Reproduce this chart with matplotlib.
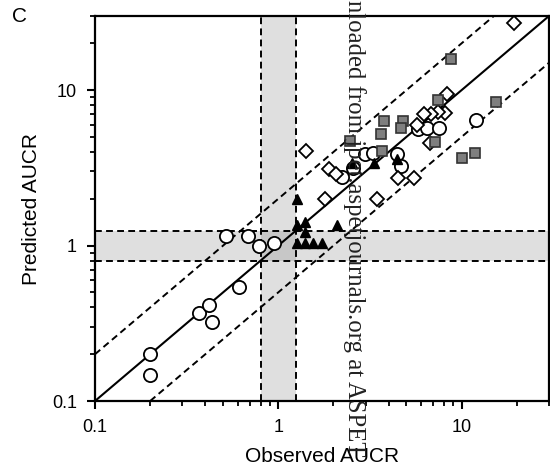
#!/usr/bin/env python3
"""Predicted vs observed AUCR, log-log scatter with 2-fold lines (panel C)."""

import matplotlib
import matplotlib.pyplot as plt
from matplotlib.ticker import NullFormatter

matplotlib.use("Agg")

plt.rcParams["font.family"] = ["Liberation Sans", "DejaVu Sans"]

# open circles
circle_obs = [0.20, 0.20, 0.37, 0.42, 0.435, 0.61, 0.52, 0.68, 0.78, 0.95,
              2.24, 2.56, 2.97, 3.3, 4.42, 4.68, 5.8, 6.5, 7.5, 12.0]
circle_pred = [0.20, 0.147, 0.37, 0.415, 0.32, 0.54, 1.15, 1.15, 1.0, 1.04,
               2.78, 3.17, 3.88, 3.92, 3.88, 3.25, 5.6, 5.75, 5.75, 6.45]

# open diamonds
diamond_obs = [19.4, 8.3, 8.1, 7.4, 6.8, 6.2, 5.7, 6.7, 1.41, 1.88,
               2.07, 4.5, 5.5, 1.8, 3.44]
diamond_pred = [27.0, 9.4, 7.1, 7.2, 7.0, 7.0, 6.0, 4.55, 4.06, 3.12,
                2.87, 2.73, 2.73, 2.0, 2.0]

# grey squares
square_obs = [8.8, 15.4, 7.43, 3.78, 4.8, 4.66, 3.63, 2.46, 3.69, 7.2, 10.0, 11.8]
square_pred = [15.9, 8.4, 8.6, 6.34, 6.34, 5.75, 5.2, 4.71, 4.06, 4.64, 3.68, 3.92]

# black triangles
triangle_obs = [1.26, 1.26, 1.4, 1.4, 1.27, 1.4, 1.55, 1.73, 2.1, 2.52, 3.34, 4.45]
triangle_pred = [2.0, 1.35, 1.42, 1.22, 1.04, 1.04, 1.04, 1.04, 1.35, 3.42, 3.42, 3.59]

lo, hi = 0.1, 30
band_lo, band_hi = 0.8, 1.25

fig = plt.figure(figsize=(5.5, 4.69), dpi=100)
ax = fig.add_axes([95 / 550, 68 / 469, 454 / 550, 385 / 469])
ax.set_xscale("log")
ax.set_yscale("log")
ax.set_xlim(lo, hi)
ax.set_ylim(lo, hi)

# grey bands around 0.8-1.25
ax.axvspan(band_lo, band_hi, color="0.5", alpha=0.25, lw=0, zorder=0)
ax.axhspan(band_lo, band_hi, color="0.5", alpha=0.25, lw=0, zorder=0)
dash = (0, (3.5, 2.2))
for v in (band_lo, band_hi):
    ax.axvline(v, color="black", lw=1.4, ls=dash, zorder=1)
    ax.axhline(v, color="black", lw=1.4, ls=dash, zorder=1)

# unity and 2-fold lines
ax.plot([lo, hi], [lo, hi], color="black", lw=1.5, zorder=2)
ax.plot([lo, hi / 2], [2 * lo, hi], color="black", lw=1.4, ls=dash, zorder=2)
ax.plot([2 * lo, hi], [lo, hi / 2], color="black", lw=1.4, ls=dash, zorder=2)

ax.plot(circle_obs, circle_pred, "o", ms=9.5, mfc="white", mec="black", mew=1.3, zorder=3)
ax.plot(diamond_obs, diamond_pred, "D", ms=7.2, mfc="white", mec="black", mew=1.3, zorder=4)
ax.plot(square_obs, square_pred, "s", ms=7, mfc="#7f7f7f", mec="#333333", mew=1.2, zorder=5)
ax.plot(triangle_obs, triangle_pred, "^", ms=7.5, mfc="black", mec="black", mew=1, zorder=6)

# axes formatting
ax.set_xticks([0.1, 1, 10])
ax.set_xticklabels(["0.1", "1", "10"])
ax.set_yticks([0.1, 1, 10])
ax.set_yticklabels(["0.1", "1", "10"])
ax.xaxis.set_minor_formatter(NullFormatter())
ax.yaxis.set_minor_formatter(NullFormatter())
ax.tick_params(which="major", direction="out", length=6, width=1.5, labelsize=13, pad=7)
ax.tick_params(which="minor", direction="out", length=3.5, width=1.3)
for spine in ax.spines.values():
    spine.set_linewidth(1.6)

ax.set_xlabel("Observed AUCR", fontsize=15, labelpad=8)
ax.set_ylabel("Predicted AUCR", fontsize=15, labelpad=8)
fig.text(0.022, 0.985, "C", fontsize=15, ha="left", va="top")

# visible part of the journal download watermark running down the page
fig.text(0.645, 0.999, "nloaded from jpet.aspetjournals.org at ASPET",
         rotation=-90, ha="center", va="top", fontsize=17.8,
         family=["Liberation Serif", "DejaVu Serif"], color="#222222", zorder=10)

fig.savefig("out.png", dpi=100)
